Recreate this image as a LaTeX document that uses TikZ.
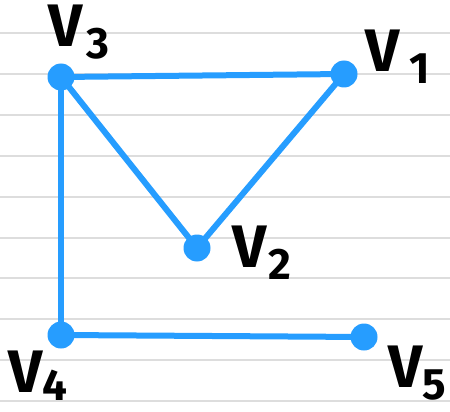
\documentclass[tikz,border=0pt]{standalone}
\usepackage{fontspec}
\setmainfont{Fira Sans}
\definecolor{edgeblue}{RGB}{38,157,255}
\definecolor{rule}{RGB}{221,221,221}
\tikzset{
  vtx/.style={circle,fill=edgeblue,inner sep=0pt,minimum size=27pt},
  edge/.style={draw=edgeblue,line width=6pt,line cap=round},
  rulel/.style={draw=rule,line width=2pt},
  lbl/.style={font=\fontsize{60}{60}\selectfont\bfseries,inner sep=0pt,text=black}
}
\newcommand{\vlab}[3][-12pt]{V\kern#3\raisebox{#1}{\fontsize{44}{44}\selectfont #2}}
\begin{document}
\begin{tikzpicture}[x=1pt,y=-1pt]
\useasboundingbox (0,0) rectangle (450,412);
\fill[white] (0,0) rectangle (450,412);
\foreach \y in {33,74,115,156,197,238,278,319,360,401}
  \draw[rulel] (0,\y) -- (450,\y);
\node[vtx] (v3) at (61,77) {};
\node[vtx] (v1) at (344,74) {};
\node[vtx] (v2) at (197,248) {};
\node[vtx] (v4) at (61,335) {};
\node[vtx] (v5) at (364,337) {};
\draw[edge] (v3.center) -- (v1.center);
\draw[edge] (v3.center) -- (v2.center);
\draw[edge] (v2.center) -- (v1.center);
\draw[edge] (v3.center) -- (v4.center);
\draw[edge] (v4.center) -- (v5.center);
\node[lbl] (l3) at (79,32) {\vlab{3}{4pt}};
\node[lbl] (l1) at (398,57) {\vlab{1}{10pt}};
\node[lbl] (l2) at (262,253) {\vlab{2}{2pt}};
\node[lbl] (l4) at (38,376) {\vlab[-8pt]{4}{0pt}};
\node[lbl] (l5) at (417,373) {\vlab{5}{0pt}};
\end{tikzpicture}
\end{document}
